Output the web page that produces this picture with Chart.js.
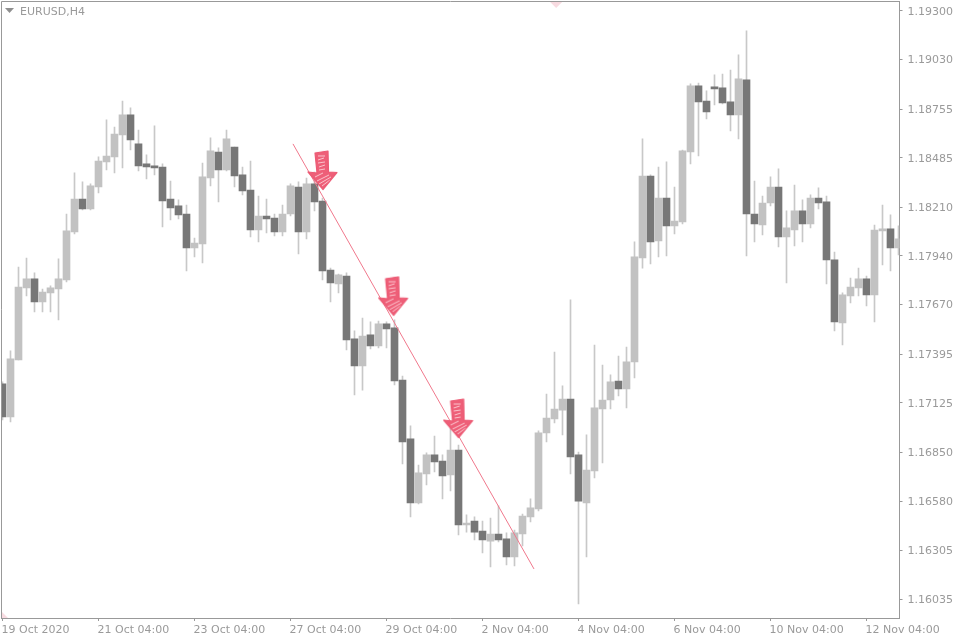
<!DOCTYPE html>
<html>
<head>
<meta charset="utf-8">
<style>html,body{margin:0;padding:0;background:#fff}canvas{display:block}</style>
<script src="https://cdn.jsdelivr.net/npm/chart.js@4"></script>
</head>
<body>
<canvas id="c" width="960" height="640"></canvas>
<script>
const symbolTitle = "EURUSD,H4";
const opens = [1.17230,1.17047,1.17363,1.17763,1.17813,1.17685,1.17735,1.17757,1.17807,1.18073,1.18256,1.18201,1.18323,1.18462,1.18490,1.18612,1.18723,1.18562,1.18451,1.18440,1.18434,1.18256,1.18218,1.18173,1.17985,1.18007,1.18373,1.18517,1.18417,1.18545,1.18390,1.18306,1.18084,1.18162,1.18151,1.18073,1.18173,1.18323,1.18073,1.18340,1.18245,1.17862,1.17785,1.17829,1.17480,1.17330,1.17502,1.17441,1.17563,1.17541,1.17252,1.16925,1.16569,1.16730,1.16836,1.16802,1.16725,1.16863,1.16447,1.16469,1.16414,1.16358,1.16397,1.16370,1.16270,1.16397,1.16492,1.16536,1.16958,1.17036,1.17085,1.17146,1.16836,1.16569,1.16747,1.17091,1.17141,1.17246,1.17202,1.17352,1.17929,1.18384,1.18023,1.18262,1.18107,1.18129,1.18517,1.18884,1.18800,1.18878,1.18873,1.18795,1.18723,1.18917,1.18173,1.18112,1.18234,1.18323,1.18046,1.18084,1.18190,1.18118,1.18262,1.18240,1.17918,1.17568,1.17718,1.17763,1.17813,1.17724,1.18079,1.18090,1.17985];
const highs = [1.17241,1.17413,1.17879,1.17929,1.17846,1.17757,1.17774,1.17924,1.18173,1.18401,1.18351,1.18340,1.18490,1.18695,1.18656,1.18800,1.18762,1.18639,1.18501,1.18662,1.18451,1.18356,1.18251,1.18223,1.18040,1.18456,1.18595,1.18540,1.18639,1.18545,1.18434,1.18467,1.18273,1.18256,1.18173,1.18223,1.18340,1.18351,1.18373,1.18406,1.18262,1.17873,1.17840,1.17846,1.17524,1.17596,1.17574,1.17579,1.17574,1.17585,1.17274,1.16997,1.16780,1.16847,1.16941,1.16836,1.16986,1.16891,1.16503,1.16492,1.16469,1.16486,1.16553,1.16403,1.16419,1.16508,1.16592,1.16969,1.17174,1.17407,1.17219,1.17696,1.16852,1.16947,1.17446,1.17335,1.17280,1.17385,1.17435,1.18018,1.18590,1.18390,1.18434,1.18462,1.18323,1.18528,1.18895,1.18900,1.18856,1.18945,1.18950,1.18972,1.19056,1.19189,1.18356,1.18273,1.18379,1.18423,1.18190,1.18334,1.18251,1.18279,1.18318,1.18273,1.17962,1.17735,1.17818,1.17873,1.17829,1.18112,1.18223,1.18168,1.18107];
const lows = [1.17030,1.17019,1.17363,1.17718,1.17629,1.17629,1.17629,1.17585,1.17796,1.18062,1.18195,1.18195,1.18290,1.18417,1.18401,1.18429,1.18528,1.18412,1.18368,1.18390,1.18101,1.18140,1.18146,1.17857,1.17935,1.17901,1.18329,1.18240,1.18412,1.18323,1.18279,1.18046,1.18018,1.18068,1.18051,1.18051,1.18162,1.17951,1.18035,1.18190,1.17807,1.17685,1.17735,1.17418,1.17169,1.17196,1.17424,1.17430,1.17430,1.17224,1.16786,1.16492,1.16564,1.16669,1.16741,1.16592,1.16636,1.16392,1.16408,1.16364,1.16292,1.16214,1.16353,1.16225,1.16220,1.16331,1.16464,1.16525,1.16908,1.17013,1.16947,1.16730,1.16009,1.16270,1.16708,1.16791,1.17091,1.17163,1.17097,1.17263,1.17873,1.17896,1.17935,1.17940,1.18062,1.18118,1.18451,1.18495,1.18701,1.18778,1.18784,1.18634,1.18590,1.17940,1.18018,1.18057,1.18218,1.17990,1.17790,1.17996,1.18018,1.18096,1.18201,1.17785,1.17524,1.17446,1.17679,1.17718,1.17663,1.17574,1.17890,1.17857,1.17946];
const closes = [1.17047,1.17369,1.17768,1.17813,1.17685,1.17740,1.17763,1.17813,1.18079,1.18256,1.18201,1.18329,1.18467,1.18495,1.18617,1.18723,1.18584,1.18440,1.18434,1.18429,1.18245,1.18207,1.18168,1.17985,1.18012,1.18379,1.18523,1.18417,1.18590,1.18384,1.18301,1.18084,1.18162,1.18146,1.18073,1.18173,1.18329,1.18073,1.18340,1.18240,1.17857,1.17790,1.17835,1.17474,1.17330,1.17496,1.17441,1.17563,1.17535,1.17246,1.16908,1.16569,1.16736,1.16836,1.16797,1.16719,1.16863,1.16447,1.16458,1.16408,1.16364,1.16397,1.16364,1.16270,1.16403,1.16497,1.16542,1.16958,1.17041,1.17091,1.17146,1.16825,1.16580,1.16752,1.17097,1.17141,1.17241,1.17202,1.17352,1.17935,1.18384,1.18018,1.18262,1.18107,1.18134,1.18523,1.18884,1.18795,1.18739,1.18867,1.18789,1.18723,1.18923,1.18173,1.18118,1.18234,1.18323,1.18046,1.18096,1.18190,1.18118,1.18262,1.18234,1.17918,1.17574,1.17724,1.17768,1.17813,1.17724,1.18084,1.18090,1.17985,1.18035];
const xTickIndex = [0,12,24,36,48,60,72,84,96,108];
const xTickLabels = ["19 Oct 2020","21 Oct 04:00","23 Oct 04:00","27 Oct 04:00","29 Oct 04:00","2 Nov 04:00","4 Nov 04:00","6 Nov 04:00","10 Nov 04:00","12 Nov 04:00"];
const yTicks = [1.19300,1.19030,1.18755,1.18485,1.18210,1.17940,1.17670,1.17395,1.17125,1.16850,1.16580,1.16305,1.16035];
const trendX = [36.31,66.44];
const trendY = [1.18562,1.16203];
const arrowX = [40.06,48.89,57.01];
const arrowY = [1.18412,1.17714,1.17035];
const markX = [69.2,-0.1875];
const markY = [1.19355,1.15931];

const AXIS = "#999999", TEXT = "#9a9a9a", UP = "#c2c2c2", DOWN = "#777777", WICK = "#c8c8c8";
const FONT = {family:"'DejaVu Sans'", size:11};

function makeArrow(){
  const k = document.createElement("canvas");
  k.width = 32; k.height = 42;
  const g = k.getContext("2d");
  const pts = [[8,3],[21,1],[21.5,22],[30,22.5],[16,39.5],[1,22],[10,23]];
  g.beginPath();
  pts.forEach((p,i)=> i ? g.lineTo(p[0],p[1]) : g.moveTo(p[0],p[1]));
  g.closePath();
  g.fillStyle = "#ee5f78"; g.fill();
  g.save(); g.clip();
  g.strokeStyle = "rgba(255,225,230,0.8)"; g.lineWidth = 1;
  for(const s of [[11,6,18,6],[11,10,17,8],[11,13,18,12],[12,17,18,15],[12,20,18,19],[8,27,16,23],[10,31,22,25],[12,34,24,27],[15,36,23,30]]){
    g.beginPath(); g.moveTo(s[0],s[1]); g.lineTo(s[2],s[3]); g.stroke();
  }
  g.restore();
  g.strokeStyle = "#ec5a74"; g.lineWidth = 1.2; g.lineJoin = "round";
  g.beginPath();
  pts.forEach((p,i)=> i ? g.lineTo(p[0],p[1]) : g.moveTo(p[0],p[1]));
  g.closePath(); g.stroke();
  return k;
}

const framePlugin = {
  id:"frame",
  afterDraw(chart){
    const {ctx, chartArea:a} = chart;
    ctx.save();
    ctx.strokeStyle = AXIS; ctx.lineWidth = 1;
    ctx.beginPath();
    ctx.moveTo(1.5,a.bottom); ctx.lineTo(1.5,1.5); ctx.lineTo(a.right,1.5);
    ctx.stroke();
    ctx.fillStyle = "#8f8f8f";
    ctx.beginPath(); ctx.moveTo(5,8); ctx.lineTo(14,8); ctx.lineTo(9.5,13); ctx.closePath(); ctx.fill();
    ctx.fillStyle = TEXT;
    ctx.font = "11px 'DejaVu Sans'";
    ctx.textAlign = "left"; ctx.textBaseline = "middle";
    ctx.fillText(symbolTitle, 20, 12);
    ctx.restore();
  }
};
function noPad(a){a.paddingLeft = 0; a.paddingRight = 0; a.paddingTop = 0; a.paddingBottom = 0;}

const idx = opens.map((_,i)=>i);
new Chart(document.getElementById("c"),{
  data:{datasets:[
    {type:"line",order:0,data:trendX.map((x,i)=>({x,y:trendY[i]})),borderColor:"#f0788c",borderWidth:1,pointRadius:0,fill:false},
    {type:"line",order:-1,showLine:false,data:arrowX.map((x,i)=>({x,y:arrowY[i]})),pointStyle:makeArrow(),pointRadius:16},
    {type:"line",order:3,showLine:false,data:markX.map((x,i)=>({x,y:markY[i]})),pointStyle:"rectRot",pointRadius:7,pointBackgroundColor:"#f8dbe1",pointBorderWidth:0},
    {type:"bar",order:2,grouped:false,barThickness:1,data:idx.map(i=>({x:i,y:[lows[i],highs[i]]})),backgroundColor:WICK,borderWidth:0},
    {type:"bar",order:1,grouped:false,barThickness:7,data:idx.map(i=>({x:i,y:[opens[i],closes[i]]})),backgroundColor:idx.map(i=>closes[i]>opens[i]?UP:DOWN),borderWidth:0,borderSkipped:false}
  ]},
  plugins:[framePlugin],
  options:{
    responsive:false,animation:false,devicePixelRatio:1,
    layout:{autoPadding:false,padding:{left:1,top:1,right:0,bottom:0}},
    plugins:{legend:{display:false},title:{display:false},tooltip:{enabled:false}},
    scales:{
      x:{
        type:"linear",min:-0.1875,max:112.125,offset:false,
        grid:{offset:false,drawOnChartArea:false,drawTicks:true,tickLength:3,color:AXIS},
        border:{color:AXIS,width:1},
        afterBuildTicks(a){a.ticks = xTickIndex.map(v=>({value:v}));},
        afterFit(a){a.height = 22; noPad(a);},
        ticks:{autoSkip:false,maxRotation:0,minRotation:0,align:"start",padding:3,labelOffset:-1,color:TEXT,font:FONT,
          callback(v){return xTickLabels[xTickIndex.indexOf(v)];}}
      },
      y:{
        type:"linear",position:"right",min:1.15931,max:1.19355,
        grid:{drawOnChartArea:false,drawTicks:true,tickLength:3,color:AXIS},
        border:{color:AXIS,width:1},
        afterBuildTicks(a){a.ticks = yTicks.map(v=>({value:v}));},
        afterFit(a){a.width = 60.5; noPad(a);},
        ticks:{autoSkip:false,padding:5,labelOffset:1,color:TEXT,font:FONT,callback(v){return v.toFixed(5);}}
      }
    }
  }
});
</script>
</body>
</html>
